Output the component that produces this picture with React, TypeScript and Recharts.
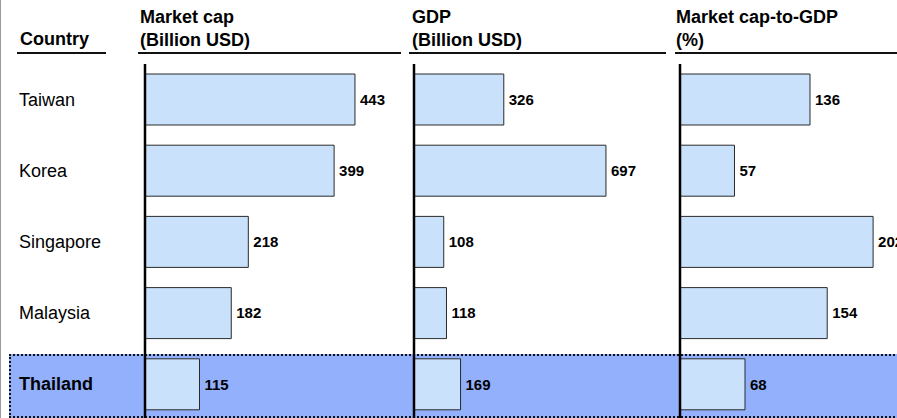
import React from "react";
import { BarChart, Bar, XAxis, YAxis, LabelList } from "recharts";

const countries = ["Taiwan", "Korea", "Singapore", "Malaysia", "Thailand"];
const marketCap = [443, 399, 218, 182, 115];
const gdp = [326, 697, 108, 118, 169];
const capToGdp = [136, 57, 202, 154, 68];
const highlightCountry = "Thailand";

const headers = [
  { lines: ["Country"], x: 20, lineFrom: 17, lineTo: 106 },
  { lines: ["Market cap", "(Billion USD)"], x: 140, lineFrom: 138, lineTo: 401 },
  { lines: ["GDP", "(Billion USD)"], x: 412, lineFrom: 409, lineTo: 666 },
  { lines: ["Market cap-to-GDP", "(%)"], x: 676, lineFrom: 675, lineTo: 897 },
];

const FONT = "'Liberation Sans', Arial, Helvetica, sans-serif";
const BAR_FILL = "#C9E1FB";
const BAR_STROKE = "#2a2a2a";
const HIGHLIGHT = "#93B0FD";

const data = countries.map((c, i) => ({
  country: c,
  cap: marketCap[i],
  gdp: gdp[i],
  ratio: capToGdp[i],
}));

const CHART_TOP = 64;
const CHART_H = 356;

const CountryTick = (props: any) => {
  const { y, payload } = props;
  const bold = payload.value === highlightCountry;
  return (
    <text
      x={19}
      y={y}
      dominantBaseline="central"
      fontFamily={FONT}
      fontSize={18}
      fontWeight={bold ? "bold" : "normal"}
      fill="#000"
    >
      {payload.value}
    </text>
  );
};

type PanelProps = {
  left: number;
  width: number;
  axisWidth: number;
  dataKey: string;
  domainMax: number;
  labels?: boolean;
};

const Panel = ({ left, width, axisWidth, dataKey, domainMax, labels }: PanelProps) => (
  <div style={{ position: "absolute", left, top: CHART_TOP }}>
    <BarChart
      width={width}
      height={CHART_H}
      data={data}
      layout="vertical"
      margin={{ top: 0, right: 0, bottom: 0, left: 0 }}
      barSize={51}
      style={{ overflow: "visible" }}
    >
      <XAxis type="number" hide domain={[0, domainMax]} />
      <YAxis
        type="category"
        dataKey="country"
        width={axisWidth}
        axisLine={{ stroke: "#000", strokeWidth: 2.5 }}
        tickLine={false}
        tick={labels ? <CountryTick /> : false}
        interval={0}
      />
      <Bar
        dataKey={dataKey}
        fill={BAR_FILL}
        stroke={BAR_STROKE}
        strokeWidth={1}
        isAnimationActive={false}
      >
        <LabelList
          dataKey={dataKey}
          position="right"
          offset={5}
          fill="#000"
          fontFamily={FONT}
          fontSize={15}
          fontWeight="bold"
        />
      </Bar>
    </BarChart>
  </div>
);

export default function App() {
  return (
    <div
      style={{
        position: "absolute",
        left: 0,
        top: 0,
        width: 897,
        height: 418,
        overflow: "hidden",
        background: "#fff",
        fontFamily: FONT,
      }}
    >
      <div style={{ position: "absolute", left: 0, top: 0, width: 1, height: 418, background: "#9a9a9a" }} />
      <div
        style={{
          position: "absolute",
          left: 9,
          top: 354,
          width: 900,
          height: 60,
          background: HIGHLIGHT,
          borderTop: "2px dotted #111",
          borderBottom: "2px dotted #111",
          borderLeft: "2px dotted #111",
        }}
      />
      {headers.map((h, i) => (
        <React.Fragment key={i}>
          <div
            style={{
              position: "absolute",
              left: h.x,
              top: h.lines.length === 1 ? 28 : 6,
              fontSize: 18,
              fontWeight: "bold",
              lineHeight: "23px",
              color: "#000",
              whiteSpace: "nowrap",
            }}
          >
            {h.lines.map((l, j) => (
              <div key={j}>{l}</div>
            ))}
          </div>
          <div
            style={{
              position: "absolute",
              left: h.lineFrom,
              top: 52,
              width: h.lineTo - h.lineFrom,
              height: 2,
              background: "#111",
            }}
          />
        </React.Fragment>
      ))}
      <Panel left={0} width={400} axisWidth={145} dataKey="cap" domainMax={538} labels />
      <Panel left={400} width={266} axisWidth={14} dataKey="gdp" domainMax={915} />
      <Panel left={666} width={231} axisWidth={14} dataKey="ratio" domainMax={227} />
    </div>
  );
}
